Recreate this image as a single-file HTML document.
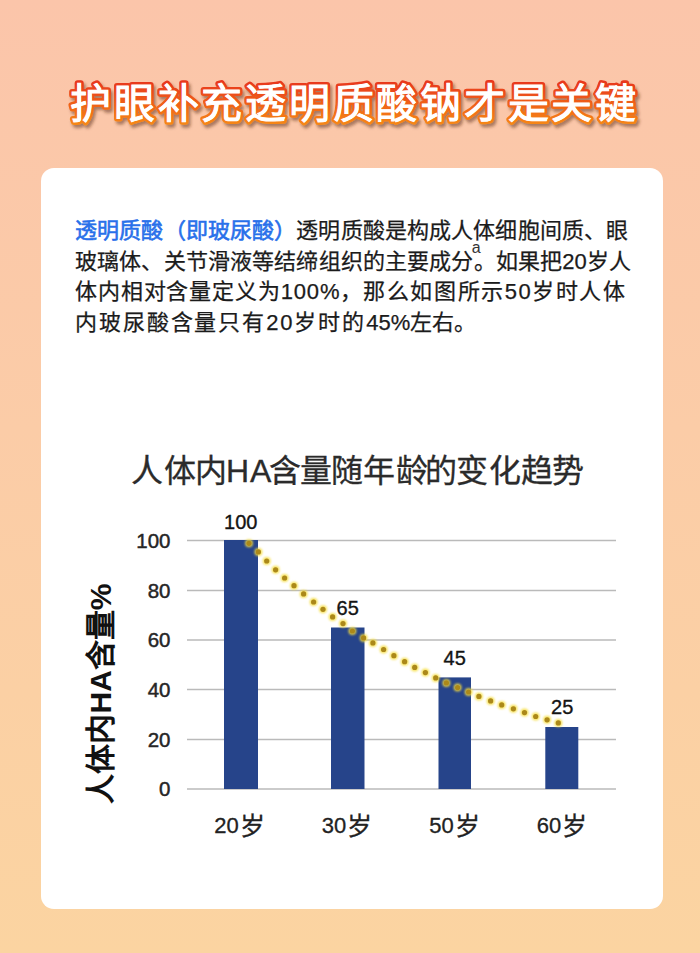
<!DOCTYPE html>
<html lang="zh-CN"><head><meta charset="utf-8">
<style>
html,body{margin:0;padding:0;}
body{width:700px;height:953px;overflow:hidden;position:relative;
  font-family:"Liberation Sans",sans-serif;
  background:linear-gradient(180deg,#fbc5aa 0%,#fbcca7 45%,#fbd4a1 100%);}
#title{position:absolute;left:0;top:0;width:700px;height:160px;}
#card{position:absolute;left:41.4px;top:168px;width:621.6px;height:740.6px;background:#fff;border-radius:13px;}
.ln{position:absolute;left:75px;height:30.5px;font-size:22px;line-height:30.5px;color:#1b1b1b;white-space:nowrap;-webkit-text-stroke:0.25px #1b1b1b;}
.blue{color:#2870ea;-webkit-text-stroke:0.6px #2870ea;}
.sp{letter-spacing:2.4px;}
#chart{position:absolute;left:0;top:0;width:700px;height:953px;}
</style></head>
<body>
<svg id="title" width="700" height="160" viewBox="0 0 700 160">
  <defs>
    <linearGradient id="sg" x1="0" y1="0" x2="0" y2="1">
      <stop offset="0" stop-color="#e8361c"/>
      <stop offset="1" stop-color="#f78c16"/>
    </linearGradient>
    <filter id="ds" x="-10%" y="-30%" width="120%" height="160%">
      <feDropShadow dx="2" dy="3" stdDeviation="1.4" flood-color="#5a2a18" flood-opacity="0.5"/>
    </filter>
  </defs>
  <g font-family="Liberation Sans, sans-serif" font-size="41" letter-spacing="2.75" filter="url(#ds)">
  <text x="70" y="118" fill="#fff" stroke="url(#sg)" stroke-width="6.1" stroke-linejoin="round" paint-order="stroke">护眼补充透明质酸钠才是关键</text>
  </g>
  <text x="70" y="118" font-family="Liberation Sans, sans-serif" font-size="41" letter-spacing="2.75" fill="#fff" stroke="#fff" stroke-width="0.9">护眼补充透明质酸钠才是关键</text>
</svg>
<div id="card"></div>
<div class="ln" style="top:216px;width:553px;text-align:justify;text-align-last:justify"><span class="blue">透明质酸（即玻尿酸）</span>透明质酸是构成人体细胞间质、眼</div>
<div class="ln" style="top:246.5px;width:556px;text-align:justify;text-align-last:justify">玻璃体、关节滑液等结缔组织的主要成分<span style="position:relative"><span style="position:absolute;left:-2px;top:-8.3px;font-size:16px;line-height:16px;-webkit-text-stroke:0;color:#333">a</span></span>。如果把20岁人</div>
<div class="ln" style="top:277px"><span style="letter-spacing:0.85px">体内相对含量定义为100%</span>，<span class="sp" style="letter-spacing:1.55px;margin-left:1px">那么如图所示50岁时人体</span></div>
<div class="ln" style="top:307.5px"><span class="sp" style="letter-spacing:1.9px">内玻尿酸含量只有20岁时的</span>45%左右。</div>

<svg id="chart" width="700" height="953" viewBox="0 0 700 953" font-family="Liberation Sans, sans-serif">
  <text x="131.1 164.4 194.8 226 250 269.2 299.8 331 363.2 395.8 425.3 455.9 488.7 520.7 552.3" y="481.8" font-size="32" fill="#2b2b2b" stroke="#2b2b2b" stroke-width="0.3">人体内HA含量随年龄的变化趋势</text>
  <g stroke="#bababa" stroke-width="1.5">
    <line x1="187" y1="540.5" x2="616" y2="540.5"/>
    <line x1="187" y1="590.5" x2="616" y2="590.5"/>
    <line x1="187" y1="640" x2="616" y2="640"/>
    <line x1="187" y1="689.5" x2="616" y2="689.5"/>
    <line x1="187" y1="739.5" x2="616" y2="739.5"/>
    <line x1="187" y1="789" x2="616" y2="789"/>
  </g>
  <g font-size="20.5" fill="#262626" text-anchor="end" stroke="#262626" stroke-width="0.45" transform="translate(1.5,0)">
    <text x="169" y="548">100</text>
    <text x="169" y="597.5">80</text>
    <text x="169" y="647">60</text>
    <text x="169" y="696.5">40</text>
    <text x="169" y="746.5">20</text>
    <text x="169" y="796">0</text>
  </g>
  <g fill="#26448a">
    <rect x="224" y="540" width="34" height="249"/>
    <rect x="331" y="627.5" width="33.5" height="161.5"/>
    <rect x="438.5" y="677.4" width="32.5" height="111.6"/>
    <rect x="545.3" y="727" width="33" height="62"/>
  </g>
  <g font-size="20" fill="#141414" text-anchor="middle" stroke="#141414" stroke-width="0.35">
    <text x="240.8" y="528.6">100</text>
    <text x="347.7" y="615">65</text>
    <text x="454.7" y="665">45</text>
    <text x="562.2" y="714.3">25</text>
  </g>
  <g font-size="22" fill="#222" text-anchor="middle" stroke="#222" stroke-width="0.3">
    <text x="239.5" y="833">20<tspan font-size="25" dx="1" dy="1.5">岁</tspan></text>
    <text x="347" y="833">30<tspan font-size="25" dx="1" dy="1.5">岁</tspan></text>
    <text x="454.5" y="833">50<tspan font-size="25" dx="1" dy="1.5">岁</tspan></text>
    <text x="562" y="833">60<tspan font-size="25" dx="1" dy="1.5">岁</tspan></text>
  </g>
  <text transform="translate(111,693.5) rotate(-90)" text-anchor="middle" font-size="30" font-weight="bold" fill="#111">人体内HA含量%</text>
  <defs><filter id="hb" x="-50%" y="-50%" width="200%" height="200%"><feGaussianBlur stdDeviation="0.9"/></filter></defs><g fill="#f6de40" opacity="0.85" filter="url(#hb)"><circle cx="249.0" cy="543.3" r="4"/><circle cx="258.4" cy="551.9" r="4"/><circle cx="266.7" cy="561.0" r="4"/><circle cx="275.6" cy="569.8" r="4"/><circle cx="284.6" cy="578.0" r="4"/><circle cx="294.0" cy="585.7" r="4"/><circle cx="303.6" cy="593.9" r="4"/><circle cx="313.6" cy="602.0" r="4"/><circle cx="323.0" cy="609.3" r="4"/><circle cx="332.6" cy="616.9" r="4"/><circle cx="343.0" cy="623.6" r="4"/><circle cx="352.4" cy="631.0" r="4"/><circle cx="363.6" cy="637.9" r="4"/><circle cx="372.9" cy="642.9" r="4"/><circle cx="383.6" cy="649.5" r="4"/><circle cx="393.9" cy="655.7" r="4"/><circle cx="404.6" cy="661.7" r="4"/><circle cx="414.7" cy="667.4" r="4"/><circle cx="425.4" cy="672.6" r="4"/><circle cx="435.7" cy="677.9" r="4"/><circle cx="446.4" cy="682.9" r="4"/><circle cx="457.6" cy="687.6" r="4"/><circle cx="468.6" cy="692.0" r="4"/><circle cx="478.9" cy="696.4" r="4"/><circle cx="490.6" cy="700.9" r="4"/><circle cx="501.7" cy="704.9" r="4"/><circle cx="513.4" cy="708.8" r="4"/><circle cx="524.5" cy="712.6" r="4"/><circle cx="535.7" cy="716.5" r="4"/><circle cx="547.1" cy="719.8" r="4"/><circle cx="558.3" cy="722.9" r="4"/></g>
  <g fill="#ab881a"><circle cx="249.0" cy="543.3" r="2.6"/><circle cx="258.4" cy="551.9" r="2.6"/><circle cx="266.7" cy="561.0" r="2.6"/><circle cx="275.6" cy="569.8" r="2.6"/><circle cx="284.6" cy="578.0" r="2.6"/><circle cx="294.0" cy="585.7" r="2.6"/><circle cx="303.6" cy="593.9" r="2.6"/><circle cx="313.6" cy="602.0" r="2.6"/><circle cx="323.0" cy="609.3" r="2.6"/><circle cx="332.6" cy="616.9" r="2.6"/><circle cx="343.0" cy="623.6" r="2.6"/><circle cx="352.4" cy="631.0" r="2.6"/><circle cx="363.6" cy="637.9" r="2.6"/><circle cx="372.9" cy="642.9" r="2.6"/><circle cx="383.6" cy="649.5" r="2.6"/><circle cx="393.9" cy="655.7" r="2.6"/><circle cx="404.6" cy="661.7" r="2.6"/><circle cx="414.7" cy="667.4" r="2.6"/><circle cx="425.4" cy="672.6" r="2.6"/><circle cx="435.7" cy="677.9" r="2.6"/><circle cx="446.4" cy="682.9" r="2.6"/><circle cx="457.6" cy="687.6" r="2.6"/><circle cx="468.6" cy="692.0" r="2.6"/><circle cx="478.9" cy="696.4" r="2.6"/><circle cx="490.6" cy="700.9" r="2.6"/><circle cx="501.7" cy="704.9" r="2.6"/><circle cx="513.4" cy="708.8" r="2.6"/><circle cx="524.5" cy="712.6" r="2.6"/><circle cx="535.7" cy="716.5" r="2.6"/><circle cx="547.1" cy="719.8" r="2.6"/><circle cx="558.3" cy="722.9" r="2.6"/></g>
</svg>
</body></html>
